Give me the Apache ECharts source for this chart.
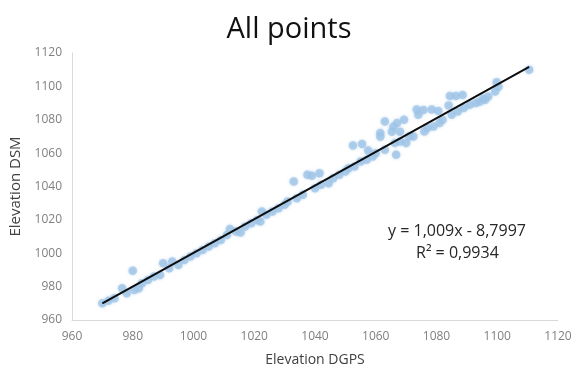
<!DOCTYPE html>
<html><head><meta charset="utf-8">
<script src="https://cdn.jsdelivr.net/npm/echarts@6/dist/echarts.min.js"></script>
<style>html,body{margin:0;padding:0;background:#fff}#c{width:578px;height:373px}</style>
</head><body><div id="c"></div>
<script>
var titleText = "All points";
var xName = "Elevation DGPS";
var yName = "Elevation DSM";
var eqText = "y = 1,009x - 8,7997";
var r2Text = "R\u00b2 = 0,9934";
var slope = 1.009;
var intercept = -8.7997;
var xTicks = [960, 980, 1000, 1020, 1040, 1060, 1080, 1100, 1120];
var yTicks = [960, 980, 1000, 1020, 1040, 1060, 1080, 1100, 1120];
var dgps = [970,972,974,976.5,978,980,980.5,982,983,985,987,989,990,992,993,995,997,999,1001,1003,1005,1007,1009,1011,1012,1014,1015.5,1017,1019,1021,1022,1022.5,1024,1026,1028,1030,1031,1033,1034,1036,1037.5,1039,1040,1041.5,1042,1044.5,1046,1048,1050,1051,1052.5,1053,1055.5,1055,1057,1057.5,1059,1060,1061.5,1061.5,1063,1063,1065.3,1065.8,1066.3,1066.7,1067,1068,1068,1069.3,1070,1071,1072.4,1073.5,1074,1075.7,1076,1077,1078.4,1079,1080.6,1081,1082,1084,1084.4,1085,1086.4,1087,1088.6,1089,1091,1093,1094.3,1095.4,1096,1097,1099.3,1100.4,1099.8,1110.5];
var dsm = [970,971.5,973,979,976,989.5,978,979,982,984,986,987,994,991,995,993,996,998,1000,1002,1004,1006,1008,1011,1014.5,1013,1012.5,1016,1018,1020,1019,1025,1023,1025,1027,1029,1031,1043,1033,1035,1047,1046.5,1039,1048,1041,1042,1045,1047,1049,1051,1064.5,1052,1065.5,1055,1056,1061.5,1058,1060,1072,1069.8,1079,1062,1072.8,1075.8,1066,1059,1078,1072.8,1067,1080,1066,1070,1070,1086.2,1083,1085.8,1073,1075,1086.2,1076,1085.2,1078,1080,1088.5,1094.2,1083,1094.2,1085,1094.8,1087,1089,1090,1091,1092.8,1092,1094,1097,1099.8,1102.5,1110];

var pts = dgps.map(function(x, i){ return [x, dsm[i]]; });
var xMin = Math.min.apply(null, dgps), xMax = Math.max.apply(null, dgps);
var trend = [[xMin, slope*xMin+intercept],[xMax, slope*xMax+intercept]];

var chart = echarts.init(document.getElementById('c'));
var font = "'Open Sans', 'Liberation Sans', sans-serif";
function fmt(v){ return String(v); }
chart.setOption({
  animation: false,
  title: { text: titleText, left: 'center', top: 10,
    textStyle: { fontFamily: font, fontSize: 29, fontWeight: 'normal', color: '#111' } },
  grid: { left: 72, right: 20, top: 53, bottom: 53 },
  xAxis: { type: 'value', min: xTicks[0], max: xTicks[xTicks.length-1], interval: 20,
    name: xName, nameLocation: 'middle', nameGap: 33,
    nameTextStyle: { fontFamily: font, fontSize: 14, color: '#404040' },
    axisLine: { show: true, lineStyle: { color: '#d9d9d9', width: 1 } },
    axisTick: { show: false }, splitLine: { show: false },
    axisLabel: { fontFamily: font, fontSize: 12, color: '#7f7f7f', margin: 11, formatter: fmt } },
  yAxis: { type: 'value', min: yTicks[0], max: yTicks[yTicks.length-1], interval: 20,
    name: yName, nameLocation: 'middle', nameGap: 46,
    nameTextStyle: { fontFamily: font, fontSize: 15, color: '#404040' },
    axisLine: { show: true, lineStyle: { color: '#d9d9d9', width: 1 } },
    axisTick: { show: false }, splitLine: { show: false },
    axisLabel: { fontFamily: font, fontSize: 12, color: '#7f7f7f', margin: 10, formatter: fmt } },
  series: [
    { type: 'scatter', data: pts, symbolSize: 8.5,
      itemStyle: { color: 'rgba(157,195,230,0.9)', shadowBlur: 3, shadowColor: 'rgba(157,195,230,0.8)' } },
    { type: 'line', data: trend, symbol: 'none', lineStyle: { color: '#0d0d0d', width: 2 }, z: 3 }
  ],
  graphic: [
    { type: 'text', left: 388, top: 223, style: { text: eqText, fontFamily: font, fontSize: 16, fill: '#262626' } },
    { type: 'text', left: 416, top: 245, style: { text: r2Text, fontFamily: font, fontSize: 16, fill: '#262626' } }
  ]
});
</script></body></html>
